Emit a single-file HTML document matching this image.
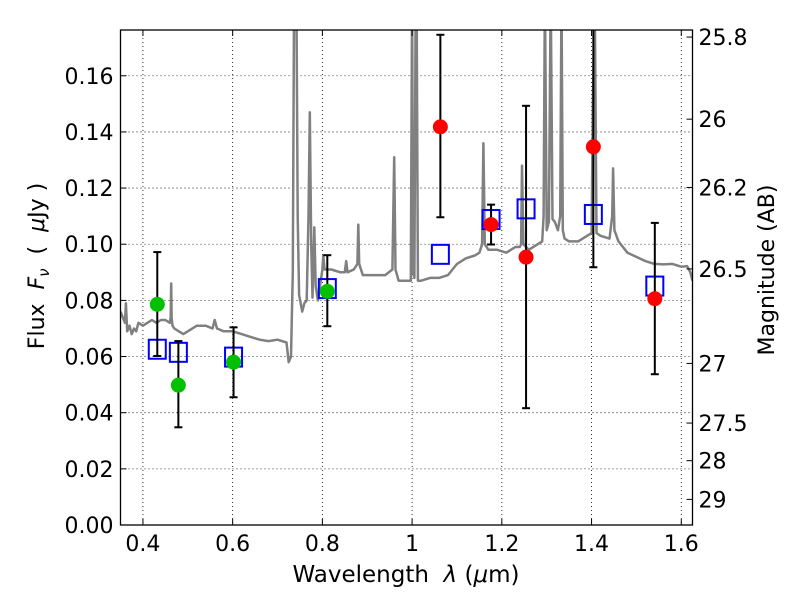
<!DOCTYPE html>
<html><head><meta charset="utf-8"><style>
body{margin:0;background:#fff}
svg{display:block;font-family:"DejaVu Sans","Liberation Sans",sans-serif}
</style></head><body>
<svg id="chart" width="800" height="600" viewBox="0 0 800 600">
<defs><clipPath id="clip"><rect x="120" y="30" width="573" height="495"/></clipPath></defs>
<rect x="0" y="0" width="800" height="600" fill="#fff"/>
<g id="grid"></g>
<g id="spec" clip-path="url(#clip)"></g>
<g id="marks" clip-path="url(#clip)"></g>
<rect x="120.5" y="30" width="572" height="495" fill="none" stroke="#000" stroke-width="1.3"/>
<g id="axes"></g>
<text x="44" y="266" font-size="22" text-anchor="middle" transform="rotate(-90 44 266)" xml:space="preserve">Flux  <tspan font-style="italic">F</tspan><tspan font-style="italic" font-size="15" dy="5">ν</tspan><tspan dy="-5">  (  <tspan font-style="italic">μ</tspan>Jy )</tspan></text>
<text x="774" y="270" font-size="22" text-anchor="middle" transform="rotate(-90 774 270)">Magnitude (AB)</text>
<text x="406" y="582" font-size="23" text-anchor="middle" xml:space="preserve">Wavelength  <tspan font-style="italic">λ</tspan> (<tspan font-style="italic">μ</tspan>m)</text>
</svg>
<script>
const xTicks=[0.4,0.6,0.8,1.0,1.2,1.4,1.6];
const xTickLabels=["0.4","0.6","0.8","1","1.2","1.4","1.6"];
const yTicks=[0,0.02,0.04,0.06,0.08,0.10,0.12,0.14,0.16];
const yTickLabels=["0.00","0.02","0.04","0.06","0.08","0.10","0.12","0.14","0.16"];
const magTicks=[25.8,26,26.2,26.5,27,27.5,28,29];
const magTickLabels=["25.8","26","26.2","26.5","27","27.5","28","29"];
const specWave=[
0.35,0.355,0.36,0.362,0.365,0.37,0.375,0.38,0.385,0.39,
0.40,0.41,0.42,0.43,0.44,0.45,0.46,0.462,0.463,0.464,
0.466,0.47,0.48,0.49,0.50,0.52,0.54,0.555,0.56,0.565,
0.58,0.60,0.62,0.64,0.66,0.68,0.70,0.72,0.725,0.73,
0.734,0.737,0.742,0.745,0.748,0.755,0.76,0.765,0.769,0.772,
0.775,0.778,0.782,0.785,0.79,0.80,0.802,0.805,0.82,0.84,
0.85,0.853,0.856,0.87,0.878,0.88,0.882,0.89,0.90,0.92,
0.94,0.956,0.96,0.963,0.97,0.99,0.997,1.0,1.002,1.005,
1.008,1.01,1.013,1.02,1.04,1.06,1.08,1.10,1.12,1.14,
1.15,1.156,1.159,1.162,1.17,1.19,1.21,1.23,1.24,1.243,
1.245,1.248,1.26,1.28,1.29,1.293,1.296,1.30,1.305,1.309,
1.313,1.318,1.325,1.33,1.333,1.336,1.34,1.35,1.37,1.39,
1.40,1.403,1.407,1.411,1.42,1.44,1.446,1.448,1.451,1.46,
1.48,1.50,1.52,1.54,1.56,1.58,1.60,1.613,1.62,1.625];
const specFlux=[
0.076,0.074,0.072,0.079,0.069,0.071,0.068,0.070,0.069,0.072,
0.071,0.072,0.073,0.072,0.073,0.073,0.072,0.074,0.086,0.074,
0.071,0.070,0.069,0.068,0.069,0.071,0.071,0.070,0.073,0.070,
0.069,0.069,0.068,0.067,0.066,0.0655,0.066,0.065,0.058,0.060,
0.09,0.19,0.19,0.11,0.082,0.076,0.079,0.080,0.11,0.147,
0.10,0.081,0.106,0.085,0.080,0.091,0.096,0.091,0.091,0.090,
0.090,0.094,0.090,0.091,0.093,0.107,0.093,0.089,0.089,0.089,
0.089,0.091,0.131,0.091,0.087,0.087,0.087,0.19,0.09,0.088,
0.19,0.19,0.087,0.087,0.088,0.088,0.089,0.093,0.095,0.096,
0.097,0.10,0.136,0.10,0.098,0.098,0.097,0.099,0.099,0.10,
0.128,0.10,0.098,0.100,0.101,0.11,0.19,0.105,0.108,0.19,
0.109,0.108,0.105,0.11,0.19,0.105,0.102,0.101,0.101,0.103,
0.104,0.15,0.19,0.104,0.103,0.102,0.11,0.127,0.105,0.101,
0.097,0.0955,0.094,0.093,0.0928,0.093,0.092,0.0922,0.090,0.087];
const greenX=[0.432,0.479,0.602,0.811];
const greenY=[0.0786,0.0498,0.058,0.0832];
const greenLo=[0.0602,0.0348,0.0455,0.0708];
const greenHi=[0.0972,0.0655,0.0704,0.0961];
const redX=[1.063,1.176,1.254,1.404,1.541];
const redY=[0.1418,0.107,0.0954,0.1347,0.0806];
const redLo=[0.1096,0.0999,0.0416,0.0918,0.0537];
const redHi=[0.1746,0.1141,0.1493,0.20,0.1076];
const boxX=[0.432,0.479,0.602,0.811,1.063,1.176,1.254,1.404,1.541];
const boxY=[0.0626,0.0615,0.0598,0.0842,0.0964,0.1088,0.1126,0.1106,0.0851];

const NS="http://www.w3.org/2000/svg";
const X0=120.5,X1=692.5,Y0=525,Y1=30,xmin=0.35,xmax=1.625,ymin=0,ymax=0.1763;
function sx(v){return X0+(v-xmin)/(xmax-xmin)*(X1-X0);}
function sy(v){return Y0-(v-ymin)/(ymax-ymin)*(Y0-Y1);}
function magToFlux(m){return Math.pow(10,(23.9-m)/2.5);}
function mk(tag,attrs,parent){const e=document.createElementNS(NS,tag);for(const k in attrs)e.setAttribute(k,attrs[k]);parent.appendChild(e);return e;}
const grid=document.getElementById('grid'),axes=document.getElementById('axes'),spec=document.getElementById('spec'),marks=document.getElementById('marks');

xTicks.forEach((t,i)=>{
  const x=sx(t);
  const g=mk('line',{x1:x,x2:x,y1:Y1,y2:Y0,stroke:'#000','stroke-width':0.8,'stroke-dasharray':'1,3'},grid);
  
  
  mk('line',{x1:x,x2:x,y1:Y0,y2:Y0-6,stroke:'#000'},axes);
  mk('line',{x1:x,x2:x,y1:Y1,y2:Y1+6,stroke:'#000'},axes);
  const tx=mk('text',{x:x,y:Y0+26,'font-size':22,'text-anchor':'middle'},axes);
  tx.textContent=xTickLabels[i];
  
  
});
yTicks.forEach((t,i)=>{
  const y=sy(t);
  const g=mk('line',{x1:X0,x2:X1,y1:y,y2:y,stroke:'#000','stroke-width':0.8,'stroke-dasharray':'1,3'},grid);
  
  
  mk('line',{x1:X0,x2:X0+6,y1:y,y2:y,stroke:'#000'},axes);
  const tx=mk('text',{x:X0-7,y:y+8,'font-size':22,'text-anchor':'end'},axes);
  tx.textContent=yTickLabels[i];
  
  
});
magTicks.forEach((m,i)=>{
  const y=sy(magToFlux(m));
  mk('line',{x1:X1-6,x2:X1,y1:y,y2:y,stroke:'#000'},axes);
  const tx=mk('text',{x:X1+6,y:y+8,'font-size':22,'text-anchor':'start'},axes);
  tx.textContent=magTickLabels[i];
  
  
});

let d='';
specWave.forEach((w,i)=>{d+=(i?'L':'M')+sx(w).toFixed(1)+','+sy(specFlux[i]).toFixed(1);});
const p=mk('path',{d:d,fill:'none',stroke:'#808080','stroke-width':2.5,'stroke-linejoin':'round'},spec);



function errbar(x,lo,hi){
  const X=sx(x);
  mk('line',{x1:X,x2:X,y1:sy(lo),y2:sy(hi),stroke:'#000','stroke-width':2},marks);
  mk('line',{x1:X-4,x2:X+4,y1:sy(lo),y2:sy(lo),stroke:'#000','stroke-width':2},marks);
  mk('line',{x1:X-4,x2:X+4,y1:sy(hi),y2:sy(hi),stroke:'#000','stroke-width':2},marks);
}
boxX.forEach((x,i)=>{
  const b=mk('rect',{x:sx(x)-8.5,y:sy(boxY[i])-9.5,width:17,height:19,fill:'none',stroke:'#0000ff','stroke-width':2},marks);
  
  
});
greenX.forEach((x,i)=>{
  errbar(x,greenLo[i],greenHi[i]);
  const c=mk('circle',{cx:sx(x),cy:sy(greenY[i]),r:7.5,fill:'#00c000'},marks);
  
  
});
redX.forEach((x,i)=>{
  errbar(x,redLo[i],redHi[i]);
  const c=mk('circle',{cx:sx(x),cy:sy(redY[i]),r:7.5,fill:'#ff0000'},marks);
  
  
});
</script>
</body></html>
